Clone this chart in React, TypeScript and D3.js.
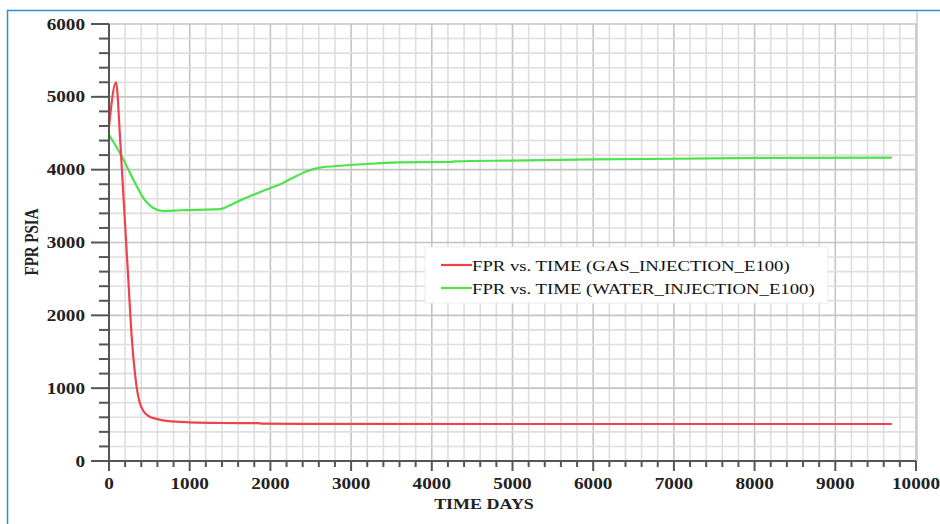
import React from 'react';
import * as d3 from 'd3';

// Field pressure vs time, two injection cases
const timeGas = [0, 87, 136, 160, 200, 240, 281, 322, 360, 390, 430, 487, 600, 714, 880, 1000, 1400, 1850, 1900, 2500, 5000, 7500, 9700];
const fprGas = [4590, 5200, 4460, 4000, 3240, 2480, 1710, 1200, 900, 770, 680, 620, 575, 550, 537, 530, 522, 520, 512, 510, 508, 508, 508];

const timeWater = [0, 157, 301, 425, 549, 673, 880, 1375, 1550, 1747, 1954, 2157, 2300, 2450, 2600, 2904, 3300, 3606, 4226, 4300, 5000, 6000, 7000, 8300, 9700];
const fprWater = [4480, 4185, 3865, 3612, 3474, 3432, 3443, 3458, 3540, 3636, 3727, 3818, 3900, 3979, 4025, 4057, 4085, 4100, 4105, 4115, 4125, 4140, 4150, 4163, 4165];

const seriesNames = ['FPR vs. TIME (GAS_INJECTION_E100)', 'FPR vs. TIME (WATER_INJECTION_E100)'];
const seriesColors = ['#f0424c', '#4de34a'];

const xMajor = d3.range(0, 10001, 1000);
const xMinor = d3.range(0, 10001, 200);
const yMajor = d3.range(0, 6001, 1000);
const yMinor = d3.range(0, 6001, 200);

const xTitle = 'TIME DAYS';
const yTitle = 'FPR PSIA';

const W = 940, H = 524;
const font = '"Liberation Serif", "Times New Roman", serif';
const SX = 1.2; // the source image is stretched sideways

const App = () => {
  const x = d3.scaleLinear().domain([0, 10000]).range([109, 916]);
  const y = d3.scaleLinear().domain([0, 6000]).range([461, 24]);

  const line = d3.line<number>().curve(d3.curveMonotoneX);
  const gasPath = line(timeGas.map((t, i) => [x(t), y(fprGas[i])]) as any);
  const waterPath = line(timeWater.map((t, i) => [x(t), y(fprWater[i])]) as any);

  const x0 = x(0), y0 = y(0), xTop = y(6000), xEnd = x(10000);

  return (
    <svg width={W} height={H} style={{ position: 'absolute', left: 0, top: 0, background: '#fff' }}>
      {/* outer frame */}
      <line x1={7} x2={W} y1={10.5} y2={10.5} stroke="#2b8ed8" strokeWidth={1.5} />
      <line x1={7.5} x2={7.5} y1={10} y2={H} stroke="#2b8ed8" strokeWidth={1.5} />
      <line x1={xEnd + 1} x2={xEnd + 1} y1={12} y2={y0} stroke="#d8d8d8" strokeWidth={2} />

      {/* grid */}
      {xMinor.map(v => (
        <line key={'gx' + v} x1={x(v)} x2={x(v)} y1={xTop} y2={y0}
          stroke={v % 1000 === 0 ? '#c4c4c4' : '#dedede'} strokeWidth={1.6} />
      ))}
      {yMinor.map(v => (
        <line key={'gy' + v} x1={x0} x2={xEnd} y1={y(v)} y2={y(v)}
          stroke={v % 1000 === 0 ? '#c4c4c4' : '#dedede'} strokeWidth={1.6} />
      ))}

      {/* series */}
      <path d={waterPath || ''} fill="none" stroke={seriesColors[1]} strokeWidth={2.2} />
      <path d={gasPath || ''} fill="none" stroke={seriesColors[0]} strokeWidth={2.2} />

      {/* axes */}
      <line x1={x0} x2={x0} y1={xTop} y2={y0} stroke="#555" strokeWidth={2} />
      <line x1={x0} x2={xEnd} y1={y0} y2={y0} stroke="#555" strokeWidth={2} />
      {yMinor.map(v => (
        <line key={'ty' + v} x1={x0 - (v % 1000 === 0 ? 18 : 10)} x2={x0} y1={y(v)} y2={y(v)}
          stroke="#555" strokeWidth={2} />
      ))}
      {xMinor.map(v => (
        <line key={'tx' + v} x1={x(v)} x2={x(v)} y1={y0} y2={y0 + (v % 1000 === 0 ? 10 : 6)}
          stroke="#555" strokeWidth={2} />
      ))}

      {/* tick labels */}
      {yMajor.map(v => (
        <text key={'ly' + v} transform={`translate(85,${y(v) + 5.5}) scale(${SX},1)`} textAnchor="end"
          fontFamily={font} fontWeight="bold" fontSize={16} fill="#222">{v}</text>
      ))}
      {xMajor.map(v => (
        <text key={'lx' + v} transform={`translate(${x(v)},${y0 + 28}) scale(${SX},1)`} textAnchor="middle"
          fontFamily={font} fontWeight="bold" fontSize={16} fill="#222">{v}</text>
      ))}

      {/* axis titles */}
      <text transform={`translate(484,509) scale(${SX},1)`} textAnchor="middle"
        fontFamily={font} fontWeight="bold" fontSize={15} fill="#222">{xTitle}</text>
      <text transform={`translate(38,242) scale(${SX},1) rotate(-90)`} textAnchor="middle"
        fontFamily={font} fontWeight="bold" fontSize={15} fill="#222">{yTitle}</text>

      {/* legend */}
      <rect x={425} y={247} width={403} height={56} fill="#fff" stroke="#ececec" />
      {seriesNames.map((name, i) => (
        <g key={name}>
          <line x1={441} x2={472} y1={265 + i * 23} y2={265 + i * 23} stroke={seriesColors[i]} strokeWidth={2.2} />
          <text transform={`translate(472,${270.5 + i * 23}) scale(${SX},1)`}
            fontFamily={font} fontSize={15.6} fill="#111">{name}</text>
        </g>
      ))}
    </svg>
  );
};

export default App;
